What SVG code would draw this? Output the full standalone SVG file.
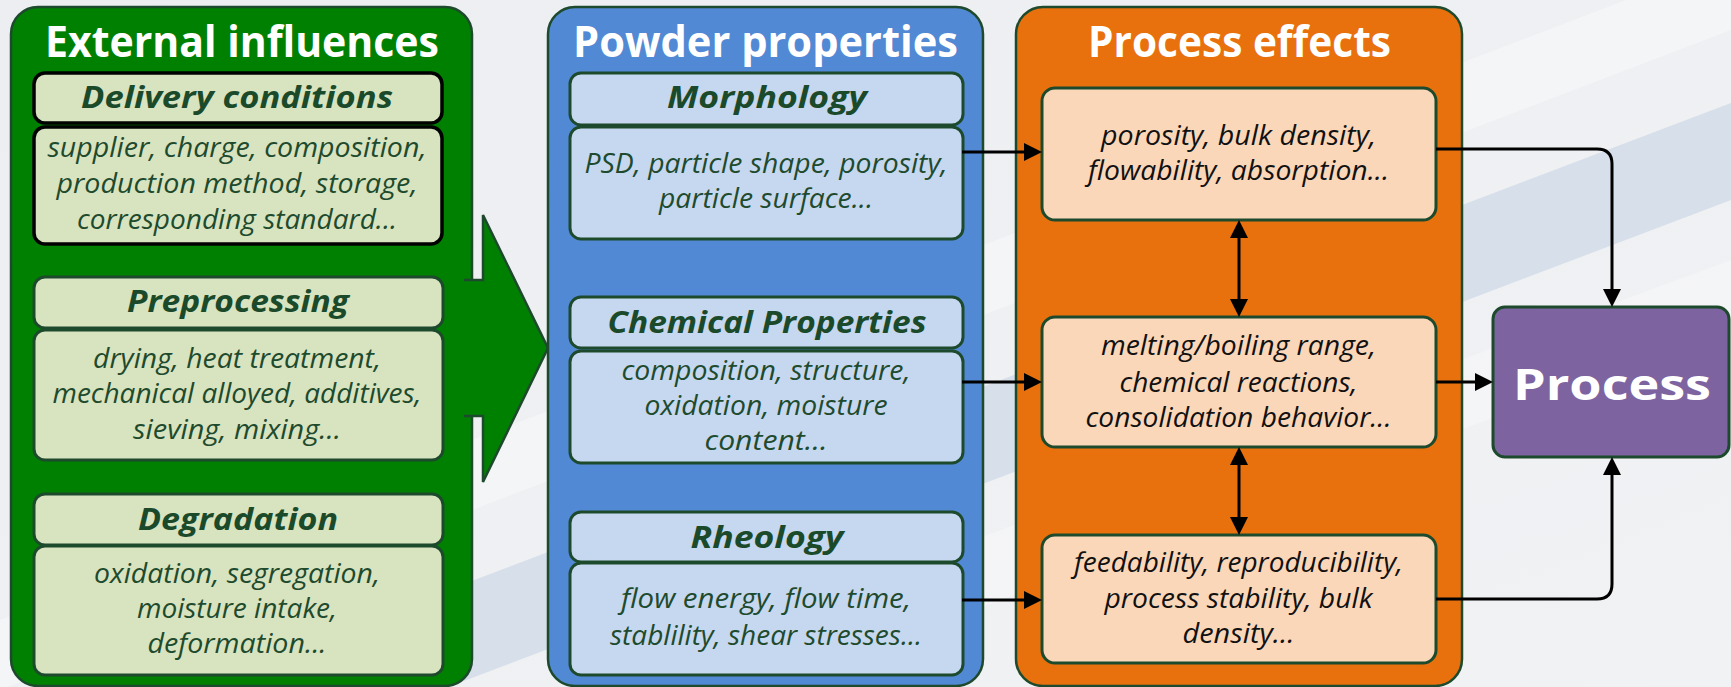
<svg xmlns="http://www.w3.org/2000/svg" width="1731" height="687" viewBox="0 0 1731 687">
  <style>
    .panel { stroke: #1d4a2c; stroke-width: 2.5; }
    .hdr { font-family: "Open Sans", "Noto Sans", sans-serif; font-weight: 700; fill: #ffffff; font-size: 43px; text-anchor: middle; }
    .gbox { fill: #d8e3c0; stroke: #1d4a2c; stroke-width: 3; }
    .gbox-k { fill: #d8e3c0; stroke: #000000; stroke-width: 3.5; }
    .bbox { fill: #c6d8ef; stroke: #1d4a2c; stroke-width: 3; }
    .obox { fill: #fbd7b9; stroke: #1d4a2c; stroke-width: 3; }
    .ttl { font-family: "Open Sans", "Noto Sans", sans-serif; font-weight: 700; font-style: italic; fill: #1b4a2b; font-size: 31px; text-anchor: middle; }
    .txt { font-family: "Open Sans", "Noto Sans", sans-serif; font-style: italic; fill: #1e4a2d; font-size: 26.5px; text-anchor: middle; }
    .otxt { font-family: "Open Sans", "Noto Sans", sans-serif; font-style: italic; fill: #111111; font-size: 27px; text-anchor: middle; }
    .conn { fill: none; stroke: #000000; stroke-width: 3; }
  </style>
  <defs>
    <linearGradient id="bg" x1="0" y1="0" x2="1" y2="1">
      <stop offset="0" stop-color="#eceef1"/>
      <stop offset="1" stop-color="#f1f2f4"/>
    </linearGradient>
    <marker id="ah" viewBox="0 0 18 18" markerWidth="18" markerHeight="18" refX="14" refY="9" orient="auto-start-reverse" markerUnits="userSpaceOnUse">
      <path d="M0,0 L18,9 L0,18 z" fill="#000000"/>
    </marker>
  </defs>

  <!-- background with diagonal bands -->
  <rect x="0" y="0" width="1731" height="687" fill="url(#bg)"/>
  <polygon points="0,620 1731,-40 1731,30 0,690" fill="#ffffff" opacity="0.35"/>
  <polygon points="0,760 1731,103 1731,200 0,857" fill="#d7dfea"/>
  <polygon points="0,900 1731,260 1731,330 0,970" fill="#ffffff" opacity="0.3"/>

  <!-- External influences -->
  <g id="external-influences">
    <rect class="panel" x="11" y="7" width="461" height="679" rx="27" fill="#008000"/>
    <path d="M464,280 L483,280 L483,215 L548,348 L483,482 L483,416 L464,416" fill="#008000" stroke="#1d4a2c" stroke-width="2.5" stroke-linejoin="miter"/>
    <text class="hdr" x="242" y="57" textLength="394" lengthAdjust="spacingAndGlyphs">External influences</text>
  </g>
  <g id="delivery-conditions">
    <rect class="gbox-k" x="34" y="73" width="408" height="50" rx="11"/>
    <text class="ttl" x="237" y="108" textLength="312" lengthAdjust="spacingAndGlyphs">Delivery conditions</text>
    <rect class="gbox-k" x="34" y="127" width="408" height="117" rx="11"/>
    <text class="txt" x="237" y="157" textLength="379" lengthAdjust="spacingAndGlyphs">supplier, charge, composition,</text>
    <text class="txt" x="237" y="193" textLength="361" lengthAdjust="spacingAndGlyphs">production method, storage,</text>
    <text class="txt" x="237" y="229" textLength="320" lengthAdjust="spacingAndGlyphs">corresponding standard...</text>
  </g>
  <g id="preprocessing">
    <rect class="gbox" x="34" y="277" width="409" height="51" rx="11"/>
    <text class="ttl" x="238" y="312" textLength="222" lengthAdjust="spacingAndGlyphs">Preprocessing</text>
    <rect class="gbox" x="34" y="330" width="409" height="130" rx="11"/>
    <text class="txt" x="237" y="368" textLength="288" lengthAdjust="spacingAndGlyphs">drying, heat treatment,</text>
    <text class="txt" x="237" y="403" textLength="369" lengthAdjust="spacingAndGlyphs">mechanical alloyed, additives,</text>
    <text class="txt" x="237" y="439" textLength="208" lengthAdjust="spacingAndGlyphs">sieving, mixing...</text>
  </g>
  <g id="degradation">
    <rect class="gbox" x="34" y="494" width="409" height="51" rx="11"/>
    <text class="ttl" x="238" y="530" textLength="200" lengthAdjust="spacingAndGlyphs">Degradation</text>
    <rect class="gbox" x="34" y="546" width="409" height="129" rx="11"/>
    <text class="txt" x="237" y="583" textLength="286" lengthAdjust="spacingAndGlyphs">oxidation, segregation,</text>
    <text class="txt" x="237" y="618" textLength="200" lengthAdjust="spacingAndGlyphs">moisture intake,</text>
    <text class="txt" x="237" y="653" textLength="179" lengthAdjust="spacingAndGlyphs">deformation...</text>
  </g>

  <!-- Powder properties -->
  <g id="powder-properties">
    <rect class="panel" x="548" y="7" width="435" height="679" rx="27" fill="#5289d4"/>
    <text class="hdr" x="765.5" y="57" textLength="385" lengthAdjust="spacingAndGlyphs">Powder properties</text>
  </g>
  <g id="morphology">
    <rect class="bbox" x="570" y="73" width="393" height="52" rx="11"/>
    <text class="ttl" x="767" y="108" textLength="200" lengthAdjust="spacingAndGlyphs">Morphology</text>
    <rect class="bbox" x="570" y="127" width="393" height="112" rx="11"/>
    <text class="txt" x="766" y="173" textLength="363" lengthAdjust="spacingAndGlyphs">PSD, particle shape, porosity,</text>
    <text class="txt" x="766" y="208" textLength="214" lengthAdjust="spacingAndGlyphs">particle surface...</text>
  </g>
  <g id="chemical-properties">
    <rect class="bbox" x="570" y="297" width="393" height="51" rx="11"/>
    <text class="ttl" x="767" y="333" textLength="319" lengthAdjust="spacingAndGlyphs">Chemical Properties</text>
    <rect class="bbox" x="570" y="351" width="393" height="112" rx="11"/>
    <text class="txt" x="766" y="380" textLength="289" lengthAdjust="spacingAndGlyphs">composition, structure,</text>
    <text class="txt" x="766" y="415" textLength="243" lengthAdjust="spacingAndGlyphs">oxidation, moisture</text>
    <text class="txt" x="766" y="450" textLength="123" lengthAdjust="spacingAndGlyphs">content…</text>
  </g>
  <g id="rheology">
    <rect class="bbox" x="570" y="512" width="393" height="50" rx="11"/>
    <text class="ttl" x="767" y="548" textLength="153" lengthAdjust="spacingAndGlyphs">Rheology</text>
    <rect class="bbox" x="570" y="563" width="393" height="112" rx="11"/>
    <text class="txt" x="766" y="608" textLength="290" lengthAdjust="spacingAndGlyphs">flow energy, flow time,</text>
    <text class="txt" x="766" y="645" textLength="312" lengthAdjust="spacingAndGlyphs">stablility, shear stresses...</text>
  </g>

  <!-- Process effects -->
  <g id="process-effects">
    <rect class="panel" x="1016" y="7" width="446" height="679" rx="27" fill="#e8710e"/>
    <text class="hdr" x="1239.5" y="57" textLength="303" lengthAdjust="spacingAndGlyphs">Process effects</text>
  </g>
  <g id="effect-packing">
    <rect class="obox" x="1042" y="88" width="394" height="132" rx="13"/>
    <text class="otxt" x="1238.5" y="145" textLength="275" lengthAdjust="spacingAndGlyphs">porosity, bulk density,</text>
    <text class="otxt" x="1238.5" y="180" textLength="301" lengthAdjust="spacingAndGlyphs">flowability, absorption...</text>
  </g>
  <g id="effect-thermal">
    <rect class="obox" x="1042" y="317" width="394" height="130" rx="13"/>
    <text class="otxt" x="1238.5" y="355" textLength="275" lengthAdjust="spacingAndGlyphs">melting/boiling range,</text>
    <text class="otxt" x="1238.5" y="392" textLength="238" lengthAdjust="spacingAndGlyphs">chemical reactions,</text>
    <text class="otxt" x="1238.5" y="427" textLength="306" lengthAdjust="spacingAndGlyphs">consolidation behavior...</text>
  </g>
  <g id="effect-feeding">
    <rect class="obox" x="1042" y="535" width="394" height="128" rx="13"/>
    <text class="otxt" x="1238.5" y="572" textLength="329" lengthAdjust="spacingAndGlyphs">feedability, reproducibility,</text>
    <text class="otxt" x="1238.5" y="608" textLength="268" lengthAdjust="spacingAndGlyphs">process stability, bulk</text>
    <text class="otxt" x="1238.5" y="643" textLength="112" lengthAdjust="spacingAndGlyphs">density...</text>
  </g>

  <!-- Process -->
  <g id="process">
    <rect x="1493" y="307" width="236" height="150" rx="12" fill="#7d64a0" stroke="#1d4a2c" stroke-width="3"/>
    <text class="hdr" x="1612" y="400" font-size="59" textLength="198" lengthAdjust="spacingAndGlyphs">Process</text>
  </g>

  <!-- connectors -->
  <g id="connectors">
    <path class="conn" d="M962,152 L1038,152" marker-end="url(#ah)"/>
    <path class="conn" d="M962,382 L1038,382" marker-end="url(#ah)"/>
    <path class="conn" d="M962,600 L1038,600" marker-end="url(#ah)"/>
    <path class="conn" d="M1239,224 L1239,313" marker-start="url(#ah)" marker-end="url(#ah)"/>
    <path class="conn" d="M1239,451 L1239,531" marker-start="url(#ah)" marker-end="url(#ah)"/>
    <path class="conn" d="M1436,149 L1597,149 Q1612,149 1612,164 L1612,303" marker-end="url(#ah)"/>
    <path class="conn" d="M1436,382 L1489,382" marker-end="url(#ah)"/>
    <path class="conn" d="M1436,599 L1597,599 Q1612,599 1612,584 L1612,461" marker-end="url(#ah)"/>
  </g>
</svg>
